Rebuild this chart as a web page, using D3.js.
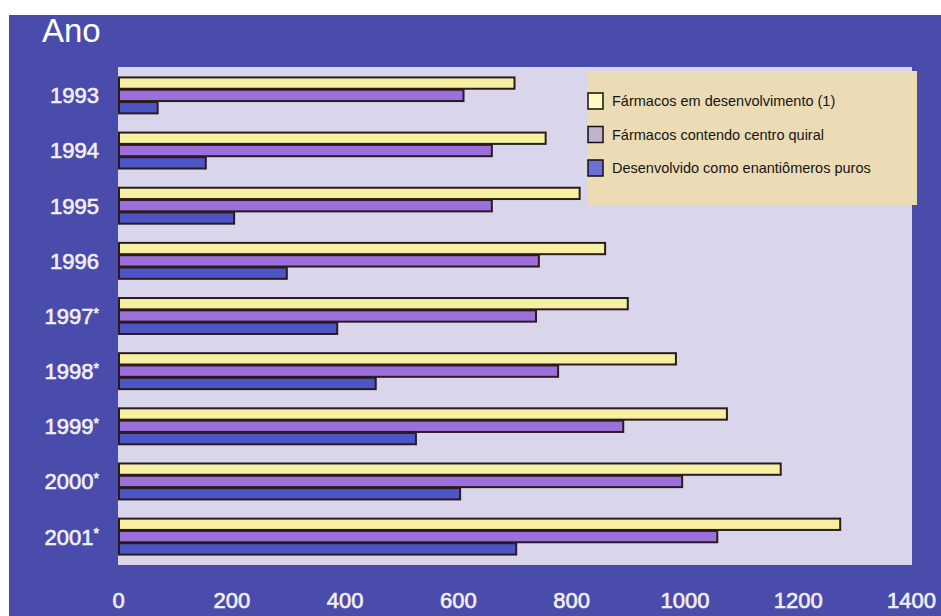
<!DOCTYPE html>
<html>
<head>
<meta charset="utf-8">
<script src="https://cdn.jsdelivr.net/npm/d3@7"></script>
<style>
  html, body { margin: 0; padding: 0; background: #ffffff; }
  svg { display: block; }
  text { font-family: "Liberation Sans", Arial, Helvetica, sans-serif; }
</style>
</head>
<body>
<svg id="chart" width="941" height="616"></svg>
<script>
// Anos (o asterisco marca valores estimados)
const years = ["1993", "1994", "1995", "1996", "1997*", "1998*", "1999*", "2000*", "2001*"];
// Fármacos em desenvolvimento (1)
const emDesenvolvimento = [700, 755, 815, 860, 900, 985, 1075, 1170, 1275];
// Fármacos contendo centro quiral
const centroQuiral = [610, 660, 660, 743, 738, 777, 892, 996, 1058];
// Desenvolvido como enantiômeros puros
const enantiomerosPuros = [70, 155, 205, 298, 387, 455, 526, 604, 703];
const seriesNames = ["Fármacos em desenvolvimento (1)", "Fármacos contendo centro quiral", "Desenvolvido como enantiômeros puros"];
const xTicks = [0, 200, 400, 600, 800, 1000, 1200, 1400];

const barColors = ["#f6f1a2", "#9c70da", "#4c55c6"];
const legendColors = ["#fdfbc0", "#c2b2d0", "#6e6fd6"];

const svg = d3.select("#chart");

// fundo azul
svg.append("rect").attr("x", 9).attr("y", 15).attr("width", 932).attr("height", 601).attr("fill", "#4a4cab");

const plot = { left: 118, right: 912, top: 67, bottom: 565 };

svg.append("rect")
  .attr("x", plot.left).attr("y", plot.top)
  .attr("width", plot.right - plot.left).attr("height", plot.bottom - plot.top)
  .attr("fill", "#d9d6eb");

const x = d3.scaleLinear().domain([0, 1400]).range([plot.left, plot.right - 1]);
const y = d3.scaleBand().domain(years).range([plot.top, plot.bottom]).paddingInner(0.33).paddingOuter(0.18);
const ySub = d3.scaleBand().domain(d3.range(3)).range([0, y.bandwidth()]);

const rows = years.map((yr, i) => ({
  year: yr,
  values: [emDesenvolvimento[i], centroQuiral[i], enantiomerosPuros[i]]
}));

const groups = svg.append("g").selectAll("g")
  .data(rows).join("g")
  .attr("transform", d => `translate(0,${y(d.year)})`);

groups.selectAll("rect")
  .data(d => d.values.map((v, k) => ({ v, k })))
  .join("rect")
  .attr("x", x(0) + 1)
  .attr("y", d => ySub(d.k) + 0.5)
  .attr("width", d => x(d.v) - x(0) - 1)
  .attr("height", ySub.bandwidth() - 1)
  .attr("fill", d => barColors[d.k])
  .attr("stroke", "#2b1b1e")
  .attr("stroke-width", 2);

// rótulos dos anos
const yearLabels = svg.append("g").selectAll("text")
  .data(years).join("text")
  .attr("x", 99)
  .attr("y", d => y(d) + y.bandwidth() / 2)
  .attr("dy", "0.36em")
  .attr("text-anchor", "end")
  .attr("fill", "#f3eff6")
  .attr("stroke", "#f3eff6")
  .attr("stroke-width", 0.6)
  .attr("font-size", 22);
yearLabels.append("tspan").text(d => d.replace("*", ""));
yearLabels.filter(d => d.endsWith("*"))
  .append("tspan").attr("font-size", 14).attr("dy", "-0.45em").text("*");

// eixo x
const xAxis = d3.axisBottom(x).tickValues(xTicks).tickFormat(d3.format("d")).tickSize(0).tickPadding(27);
const gx = svg.append("g").attr("transform", `translate(0,${plot.bottom})`).call(xAxis);
gx.select(".domain").remove();
gx.selectAll("text")
  .attr("fill", "#f3eff6")
  .attr("stroke", "#f3eff6")
  .attr("stroke-width", 0.6)
  .attr("font-size", 22)
  .attr("font-family", "'Liberation Sans', Arial, Helvetica, sans-serif");

// título do eixo
svg.append("text").attr("x", 42).attr("y", 42)
  .attr("fill", "#ffffff").attr("font-size", 33).text("Ano");

// legenda
const legend = svg.append("g").attr("transform", "translate(587,71)");
legend.append("rect").attr("width", 330).attr("height", 134).attr("fill", "#ecdcb5");
const items = legend.selectAll("g.item")
  .data(seriesNames).join("g").attr("class", "item")
  .attr("transform", (d, i) => `translate(0,${30 + i * 33.5})`);
items.append("rect")
  .attr("x", 1).attr("y", -8).attr("width", 15).attr("height", 16)
  .attr("fill", (d, i) => legendColors[i])
  .attr("stroke", "#111").attr("stroke-width", 1.5);
items.append("text")
  .attr("x", 25).attr("y", 0).attr("dy", "0.35em")
  .attr("fill", "#151515").attr("font-size", 14.5)
  .text(d => d);
</script>
</body>
</html>
